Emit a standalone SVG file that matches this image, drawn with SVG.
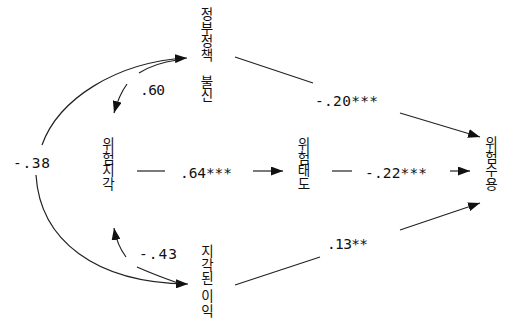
<svg xmlns="http://www.w3.org/2000/svg" width="507" height="326" viewBox="0 0 507 326">
  <style>
    .node { font-family: "Noto Sans CJK KR", "Noto Sans", sans-serif; font-size: 13.5px; fill: #111; writing-mode: vertical-rl; text-orientation: upright; }
    .coef { font-family: "DejaVu Sans Mono", "Liberation Mono", monospace; font-size: 14.5px; fill: #111; }
    .edge { fill: none; stroke: #222; stroke-width: 1.2; }
  </style>
  <defs>
    <marker id="arrow" markerUnits="userSpaceOnUse" markerWidth="12" markerHeight="9" refX="12" refY="4.5" orient="auto">
      <path d="M0,0 L12,4.5 L0,9 z" fill="#111"/>
    </marker>
  </defs>

  <rect width="507" height="326" fill="#fff"/>

  <!-- nodes: vertical labels, each glyph placed on its own line -->
  <g id="node-distrust">
    <text class="node"><tspan x="207" y="6.75">정</tspan><tspan x="207" y="20.25">부</tspan><tspan x="207" y="33.75">정</tspan><tspan x="207" y="47.25">책</tspan><tspan x="207" y="60.75"> </tspan><tspan x="207" y="74.25">불</tspan><tspan x="207" y="87.75">신</tspan></text>
  </g>
  <g id="node-risk-perception">
    <text class="node"><tspan x="108.5" y="137">위</tspan><tspan x="108.5" y="150.25">험</tspan><tspan x="108.5" y="163.5">지</tspan><tspan x="108.5" y="176.75">각</tspan></text>
  </g>
  <g id="node-risk-attitude">
    <text class="node"><tspan x="304" y="137">위</tspan><tspan x="304" y="150.25">험</tspan><tspan x="304" y="163.5">태</tspan><tspan x="304" y="176.75">도</tspan></text>
  </g>
  <g id="node-risk-acceptance">
    <text class="node"><tspan x="491.5" y="136.5">위</tspan><tspan x="491.5" y="149.75">험</tspan><tspan x="491.5" y="163">수</tspan><tspan x="491.5" y="176.25">용</tspan></text>
  </g>
  <g id="node-perceived-benefit">
    <text class="node"><tspan x="207.5" y="244.25">지</tspan><tspan x="207.5" y="257.75">각</tspan><tspan x="207.5" y="271.25">된</tspan><tspan x="207.5" y="284.75"> </tspan><tspan x="207.5" y="289.25">이</tspan><tspan x="207.5" y="303.25">익</tspan></text>
  </g>

  <!-- connectors -->
  <g id="connectors">
    <!-- covariance -.38 (distrust <-> benefit) -->
    <path class="edge" d="M42,145 C58,100 115,62 187,58" marker-end="url(#arrow)"/>
    <path class="edge" d="M36,175 C40,240 95,283 188,284" marker-end="url(#arrow)"/>
    <!-- covariance .60 (distrust <-> risk perception) -->
    <path class="edge" d="M139,73 Q155,63 177,60"/>
    <path class="edge" d="M127,84 Q119,95 114,113" marker-end="url(#arrow)"/>
    <!-- covariance -.43 (benefit <-> risk perception) -->
    <path class="edge" d="M137,267 Q155,275 178,283"/>
    <path class="edge" d="M126,257 Q117,245 114,228" marker-end="url(#arrow)"/>
    <!-- risk perception -> risk attitude -->
    <line class="edge" x1="137" y1="171" x2="165" y2="171"/>
    <line class="edge" x1="253" y1="171" x2="283" y2="171" marker-end="url(#arrow)"/>
    <!-- risk attitude -> risk acceptance -->
    <line class="edge" x1="332" y1="171" x2="352" y2="171"/>
    <line class="edge" x1="450" y1="171" x2="470" y2="171" marker-end="url(#arrow)"/>
    <!-- distrust -> risk acceptance -->
    <line class="edge" x1="235" y1="57" x2="313" y2="83"/>
    <line class="edge" x1="400" y1="113" x2="480" y2="137" marker-end="url(#arrow)"/>
    <!-- benefit -> risk acceptance -->
    <line class="edge" x1="235" y1="285" x2="320" y2="257"/>
    <line class="edge" x1="400" y1="230" x2="480" y2="203" marker-end="url(#arrow)"/>
  </g>

  <!-- path coefficients -->
  <g id="coefficients">
    <text class="coef" x="13" y="168" textLength="37" lengthAdjust="spacing">-.38</text>
    <text class="coef" x="140" y="95" textLength="25" lengthAdjust="spacing">.60</text>
    <text class="coef" x="139" y="259" textLength="38" lengthAdjust="spacing">-.43</text>
    <text class="coef" x="180" y="178" textLength="52" lengthAdjust="spacing">.64***</text>
    <text class="coef" x="365" y="178" textLength="62" lengthAdjust="spacing">-.22***</text>
    <text class="coef" x="315" y="106" textLength="63" lengthAdjust="spacing">-.20***</text>
    <text class="coef" x="327" y="249" textLength="41" lengthAdjust="spacing">.13**</text>
  </g>
</svg>
